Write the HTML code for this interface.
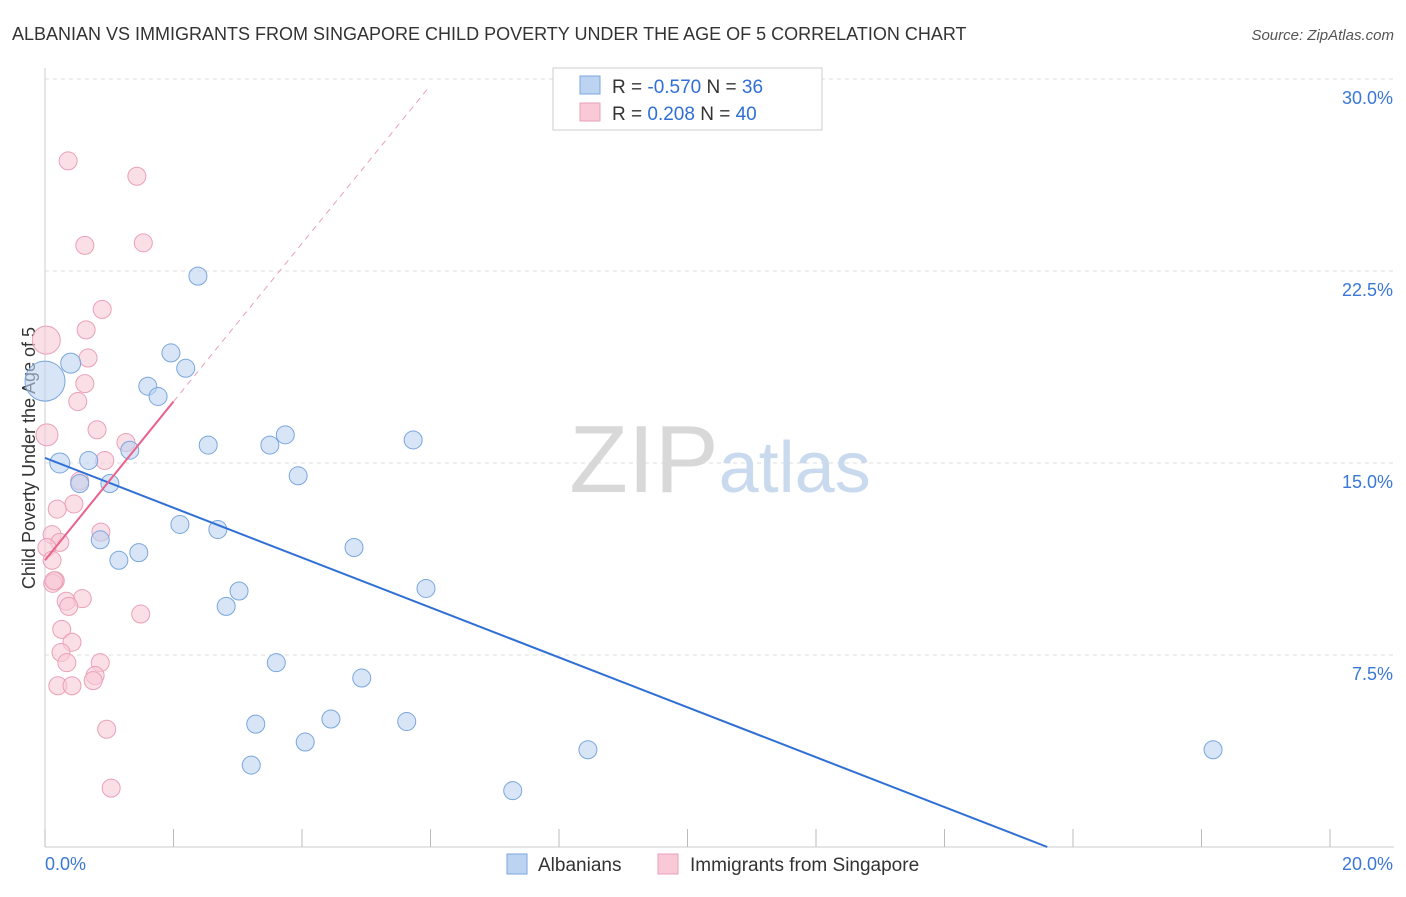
<!DOCTYPE html>
<html><head><meta charset="utf-8"><style>
body{margin:0;background:#fff;font-family:"Liberation Sans",sans-serif;}
svg text{font-family:"Liberation Sans",sans-serif;}
</style></head><body>
<svg id="c" width="1406" height="892" xmlns="http://www.w3.org/2000/svg">
<text x="12" y="40" font-size="18" fill="#333">ALBANIAN VS IMMIGRANTS FROM SINGAPORE CHILD POVERTY UNDER THE AGE OF 5 CORRELATION CHART</text>
<text x="1394" y="40" font-size="15" fill="#555" font-style="italic" text-anchor="end">Source: ZipAtlas.com</text>
<text x="35" y="458" font-size="18" fill="#333" text-anchor="middle" transform="rotate(-90 35 458)">Child Poverty Under the Age of 5</text>
<g id="grid"></g>
<text x="720" y="492" font-size="96" fill="#ddd" text-anchor="middle" font-family="Liberation Serif"><tspan fill="#d8d8d8">ZIP</tspan><tspan fill="#c9d9ee" font-family="Liberation Sans" font-size="72">atlas</tspan></text>
<g id="pts"></g>
<g id="lines"></g>
<rect x="553" y="68" width="269" height="62" fill="#fff" stroke="#ccc"/>
<rect x="580" y="76" width="20" height="18" fill="#bcd4f2" stroke="#7aa6dd"/>
<rect x="580" y="103" width="20" height="18" fill="#f9c9d7" stroke="#eaa0b8"/>
<text x="612" y="93" font-size="19" fill="#333">R = <tspan fill="#2f6fd6">-0.570</tspan>   N = <tspan fill="#2f6fd6">36</tspan></text>
<text x="612" y="120" font-size="19" fill="#333">R =  <tspan fill="#2f6fd6"> 0.208</tspan>   N = <tspan fill="#2f6fd6">40</tspan></text>
<rect x="507" y="854" width="20" height="20" fill="#bcd4f2" stroke="#7aa6dd"/>
<text x="538" y="871" font-size="19" fill="#333">Albanians</text>
<rect x="658" y="854" width="20" height="20" fill="#f9c9d7" stroke="#eaa0b8"/>
<text x="690" y="871" font-size="19" fill="#333">Immigrants from Singapore</text>
</svg>
<script>
const xTicks=[0,2,4,6,8,10,12,14,16,18,20];
const yTicks=[7.5,15,22.5,30];
const yTickLabels=["7.5%","15.0%","22.5%","30.0%"];
const albX=[0,0.4,0.23,0.68,0.54,1.01,1.32,0.86,1.15,1.46,1.6,1.76,1.96,2.19,2.38,2.1,2.54,2.69,3.02,2.82,3.5,3.74,3.94,3.6,3.28,3.21,4.05,4.45,4.81,4.93,5.63,5.73,5.93,7.28,8.45,18.18];
const albY=[18.2,18.9,15.0,15.1,14.2,14.2,15.5,12.0,11.2,11.5,18.0,17.6,19.3,18.7,22.3,12.6,15.7,12.4,10.0,9.4,15.7,16.1,14.5,7.2,4.8,3.2,4.1,5.0,11.7,6.6,4.9,15.9,10.1,2.2,3.8,3.8];
const albS=[20,10,10,9,9,9,9,9,9,9,9,9,9,9,9,9,9,9,9,9,9,9,9,9,9,9,9,9,9,9,9,9,9,9,9,9];
const sgX=[0.36,1.43,0.62,1.53,0.89,0.64,0.02,0.67,0.62,0.51,0.03,0.81,1.26,0.93,0.54,0.45,0.19,0.11,0.23,0.03,0.11,0.16,0.12,0.58,0.33,0.37,1.49,0.26,0.42,0.25,0.34,0.86,0.2,0.42,0.78,0.75,0.96,1.03,0.87,0.14];
const sgY=[26.8,26.2,23.5,23.6,21.0,20.2,19.8,19.1,18.1,17.4,16.1,16.3,15.8,15.1,14.3,13.4,13.2,12.2,11.9,11.7,11.2,10.4,10.3,9.7,9.6,9.4,9.1,8.5,8.0,7.6,7.2,7.2,6.3,6.3,6.7,6.5,4.6,2.3,12.3,10.4];
const sgS=[9,9,9,9,9,9,14,9,9,9,11,9,9,9,9,9,9,9,9,9,9,9,9,9,9,9,9,9,9,9,9,9,9,9,9,9,9,9,9,9];
const albTrend=[[0,15.2],[15.6,0]];
const sgTrend=[[0,11.2],[2.0,17.4]];
const sgDash=[[2.0,17.4],[5.95,29.6]];
const X=v=>45+v*64.25, Y=v=>847-v*25.6;
const NS="http://www.w3.org/2000/svg";
function mk(t,a,p){const e=document.createElementNS(NS,t);for(const k in a)e.setAttribute(k,a[k]);p.appendChild(e);return e;}
const grid=document.getElementById('grid');
let ax=mk('line',{x1:45,y1:68,x2:45,y2:847,stroke:'#ccc'},grid);


let bx=mk('line',{x1:45,y1:847,x2:1394,y2:847,stroke:'#ccc'},grid);


yTicks.forEach((t,i)=>{
 let l=mk('line',{x1:45,y1:Y(t),x2:1394,y2:Y(t),stroke:'#ddd','stroke-dasharray':'4,4'},grid);
 
 
 let tx=mk('text',{x:1393,y:Y(t)+25,'font-size':18,fill:'#3a78d6','text-anchor':'end'},grid);
 tx.textContent=yTickLabels[i];
 
 
});
xTicks.forEach(t=>{
 let l=mk('line',{x1:X(t),y1:829,x2:X(t),y2:847,stroke:'#bbb'},grid);
 
 
});
let xl=mk('text',{x:45,y:870,'font-size':18,fill:'#3a78d6'},grid);xl.textContent=xTicks[0].toFixed(1)+'%';


let xr=mk('text',{x:1393,y:870,'font-size':18,fill:'#3a78d6','text-anchor':'end'},grid);xr.textContent=xTicks[xTicks.length-1].toFixed(1)+'%';


const pts=document.getElementById('pts');
sgX.forEach((v,i)=>{let c=mk('circle',{cx:X(v),cy:Y(sgY[i]),r:sgS[i],fill:'#f9c9d7','fill-opacity':0.6,stroke:'#eaa0b8'},pts);
 
 });
albX.forEach((v,i)=>{let c=mk('circle',{cx:X(v),cy:Y(albY[i]),r:albS[i],fill:'#bcd4f2','fill-opacity':0.6,stroke:'#7aa6dd'},pts);
 
 });
const lines=document.getElementById('lines');
let l1=mk('line',{x1:X(albTrend[0][0]),y1:Y(albTrend[0][1]),x2:X(albTrend[1][0]),y2:Y(albTrend[1][1]),stroke:'#2f6fd6','stroke-width':2},lines);


let l2=mk('line',{x1:X(sgTrend[0][0]),y1:Y(sgTrend[0][1]),x2:X(sgTrend[1][0]),y2:Y(sgTrend[1][1]),stroke:'#e8628c','stroke-width':2},lines);


let l3=mk('line',{x1:X(sgDash[0][0]),y1:Y(sgDash[0][1]),x2:X(sgDash[1][0]),y2:Y(sgDash[1][1]),stroke:'#eaa0b8','stroke-width':1,'stroke-dasharray':'6,5'},lines);


</script>
</body></html>
